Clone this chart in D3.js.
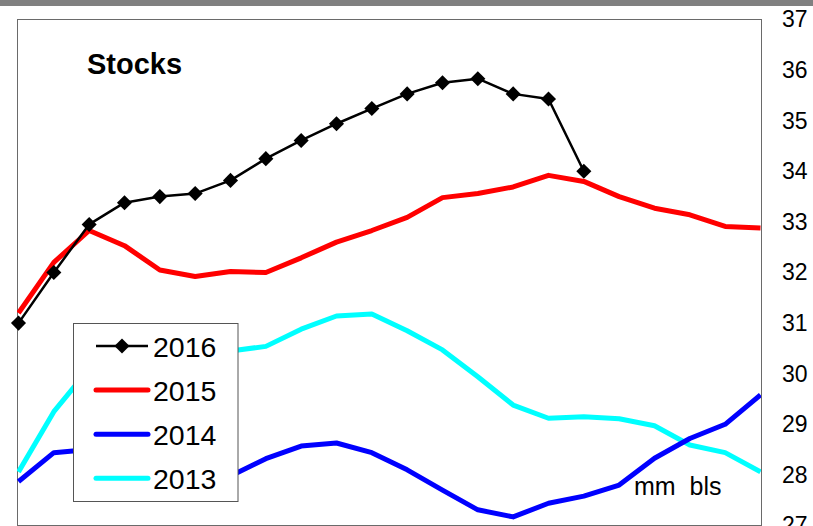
<!DOCTYPE html>
<html>
<head>
<meta charset="utf-8">
<script src="https://cdn.jsdelivr.net/npm/d3@7"></script>
<style>
  html, body { margin: 0; padding: 0; background: #fff; }
  svg { display: block; font-family: "Liberation Sans", Arial, sans-serif; }
</style>
</head>
<body>
<svg id="chart" width="813" height="526"></svg>
<script>
// Weekly crude stocks, one series per year (mm bls)
const weeks = d3.range(22);
const stocks2016 = [31.0, 32.0, 32.95, 33.38, 33.5, 33.56, 33.82, 34.25, 34.61, 34.94, 35.24, 35.53, 35.75, 35.83, 35.53, 35.43, 34.0];
const stocks2015 = [31.2, 32.2, 32.83, 32.53, 32.05, 31.92, 32.02, 32.0, 32.29, 32.6, 32.83, 33.09, 33.48, 33.56, 33.69, 33.92, 33.8, 33.5, 33.27, 33.14, 32.91, 32.88];
const stocks2014 = [27.87, 28.44, 28.5, 28.38, 28.22, 28.08, 27.98, 28.32, 28.57, 28.63, 28.44, 28.1, 27.7, 27.31, 27.17, 27.44, 27.58, 27.8, 28.33, 28.72, 29.0, 29.58];
const stocks2013 = [28.06, 29.25, 30.1, 30.4, 30.5, 30.48, 30.45, 30.54, 30.88, 31.14, 31.18, 30.85, 30.47, 29.94, 29.38, 29.12, 29.15, 29.11, 28.97, 28.59, 28.44, 28.06];
const yTicks = [27, 28, 29, 30, 31, 32, 33, 34, 35, 36, 37];

const series = [
  { name: "2013", values: stocks2013, color: "#00FFFF", width: 5, markers: false },
  { name: "2014", values: stocks2014, color: "#0000FF", width: 5, markers: false },
  { name: "2015", values: stocks2015, color: "#FF0000", width: 5, markers: false },
  { name: "2016", values: stocks2016, color: "#000000", width: 2.5, markers: true }
];

const svg = d3.select("#chart");
const plot = { left: 17, top: 19.5, right: 761, bottom: 525.5 };

const x = d3.scaleLinear().domain([0, 21]).range([18.5, 760.5]);
const y = d3.scaleLinear().domain([27, 37]).range([plot.bottom, plot.top]);

// header band
svg.append("rect").attr("x", 0).attr("y", 0).attr("width", 813).attr("height", 6).attr("fill", "#808080");

svg.append("defs").append("clipPath").attr("id", "plotClip")
  .append("rect")
  .attr("x", plot.left).attr("y", plot.top)
  .attr("width", plot.right - plot.left).attr("height", plot.bottom - plot.top);

// plot frame
svg.append("rect")
  .attr("x", plot.left + 0.5).attr("y", plot.top)
  .attr("width", plot.right - plot.left).attr("height", plot.bottom - plot.top)
  .attr("fill", "none").attr("stroke", "#6a6a6a").attr("stroke-width", 1);

// right-hand value axis, labels only
const yAxis = d3.axisRight(y).tickValues(yTicks).tickSize(0).tickPadding(0).tickFormat(d3.format("d"));
const axisG = svg.append("g").attr("transform", "translate(782,0)").call(yAxis);
axisG.select(".domain").remove();
axisG.selectAll("text").attr("font-size", 23).attr("fill", "#000")
  .attr("font-family", "'Liberation Sans', Arial, sans-serif");

const line = d3.line().x((d, i) => x(weeks[i])).y(d => y(d));

const lines = svg.append("g").attr("clip-path", "url(#plotClip)");
series.forEach(s => {
  lines.append("path")
    .datum(s.values)
    .attr("d", line)
    .attr("fill", "none")
    .attr("stroke", s.color)
    .attr("stroke-width", s.width)
    .attr("stroke-linejoin", "round");
});

const diamond = d3.symbol().type(d3.symbolDiamond2).size(145);
series.filter(s => s.markers).forEach(s => {
  svg.append("g").selectAll("path")
    .data(s.values)
    .join("path")
    .attr("d", diamond)
    .attr("transform", (d, i) => `translate(${x(weeks[i])},${y(d)})`)
    .attr("fill", s.color);
});

// title and unit
svg.append("text").attr("x", 87).attr("y", 73.5)
  .attr("font-size", 29).attr("font-weight", "bold").text("Stocks");
svg.append("text").attr("x", 634).attr("y", 495)
  .attr("font-size", 25).style("white-space", "pre").text("mm  bls");

// legend
const legend = svg.append("g");
legend.append("rect")
  .attr("x", 73.5).attr("y", 323.5).attr("width", 164.5).attr("height", 178)
  .attr("fill", "#fff").attr("stroke", "#555").attr("stroke-width", 1);

const legendOrder = ["2016", "2015", "2014", "2013"];
legendOrder.forEach((name, i) => {
  const s = series.find(d => d.name === name);
  const cy = 346 + i * 44.1;
  legend.append("line")
    .attr("x1", 96).attr("x2", 148).attr("y1", cy).attr("y2", cy)
    .attr("stroke", s.color).attr("stroke-width", s.width)
    .attr("stroke-linecap", s.markers ? "butt" : "round");
  if (s.markers) {
    legend.append("path").attr("d", diamond)
      .attr("transform", `translate(122,${cy})`).attr("fill", s.color);
  }
  legend.append("text").attr("x", 153).attr("y", cy + 10.5)
    .attr("font-size", 28.5).text(name);
});
</script>
</body>
</html>
